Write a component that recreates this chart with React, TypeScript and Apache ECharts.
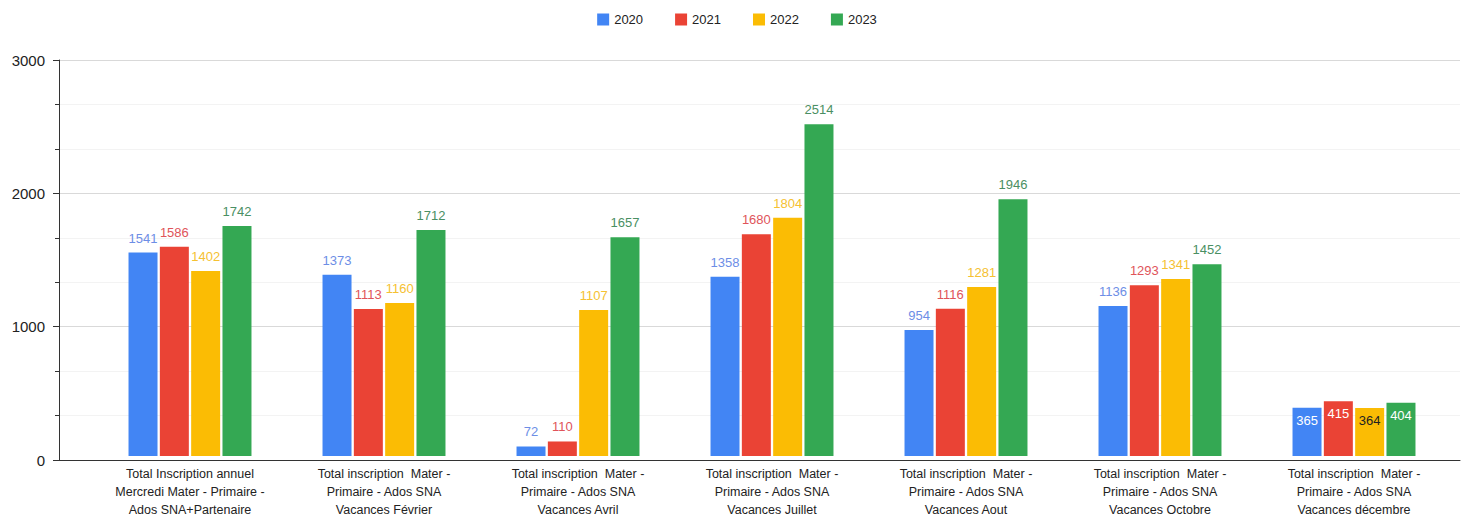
import React, { useEffect, useRef } from "react";
import * as echarts from "echarts";

const categories = [
  "Total Inscription annuel\nMercredi Mater - Primaire -\nAdos SNA+Partenaire",
  "Total inscription  Mater -\nPrimaire - Ados SNA\nVacances Février",
  "Total inscription  Mater -\nPrimaire - Ados SNA\nVacances Avril",
  "Total inscription  Mater -\nPrimaire - Ados SNA\nVacances Juillet",
  "Total inscription  Mater -\nPrimaire - Ados SNA\nVacances Aout",
  "Total inscription  Mater -\nPrimaire - Ados SNA\nVacances Octobre",
  "Total inscription  Mater -\nPrimaire - Ados SNA\nVacances décembre",
];
const seriesNames = ["2020", "2021", "2022", "2023"];
const values2020 = [1541, 1373, 72, 1358, 954, 1136, 365];
const values2021 = [1586, 1113, 110, 1680, 1116, 1293, 415];
const values2022 = [1402, 1160, 1107, 1804, 1281, 1341, 364];
const values2023 = [1742, 1712, 1657, 2514, 1946, 1452, 404];
const yTicks = [0, 1000, 2000, 3000];

const colors = ["#4285F4", "#EA4335", "#FBBC04", "#34A853"];
const labelColors = ["#6d8ee6", "#e0545a", "#f5c132", "#4a8f63"];
const insideLabelColors = ["#ffffff", "#ffffff", "#222222", "#ffffff"];
const FONT = "Liberation Sans, Arial, sans-serif";

export default function App() {
  const ref = useRef<HTMLDivElement>(null);
  useEffect(() => {
    document.body.style.margin = "0";
    const chart = echarts.init(ref.current!, null, { renderer: "svg" });
    const all = [values2020, values2021, values2022, values2023];
    const yMax = yTicks[yTicks.length - 1];
    const series = all.map((vals, i) => ({
      name: seriesNames[i],
      type: "bar",
      xAxisIndex: 1,
      yAxisIndex: 1,
      barWidth: 29,
      barGap: "8%",
      itemStyle: { color: colors[i] },
      data: vals.map((v, j) =>
        j === vals.length - 1
          ? {
              value: v,
              label: {
                position: "insideTop",
                distance: 6,
                color: insideLabelColors[i],
              },
            }
          : v
      ),
      label: {
        show: true,
        position: "top",
        distance: 8,
        color: labelColors[i],
        fontSize: 13,
        fontFamily: FONT,
      },
    }));
    chart.setOption({
      animation: false,
      textStyle: { fontFamily: FONT },
      color: colors,
      legend: {
        top: 8,
        left: "center",
        itemWidth: 12,
        itemHeight: 12,
        itemGap: 32,
        icon: "rect",
        textStyle: { fontSize: 13, color: "#222", fontFamily: FONT },
        data: seriesNames,
      },
      grid: [
        { left: 59, right: 14, top: 60, bottom: 59 },
        { left: 93, right: 23, top: 60, bottom: 59 },
      ],
      xAxis: [
        {
          gridIndex: 0,
          type: "category",
          data: [""],
          axisLine: { show: true, lineStyle: { color: "#333", width: 1 } },
          axisTick: { show: false },
          axisLabel: { show: false },
        },
        {
          gridIndex: 1,
          type: "category",
          data: categories,
          axisLine: { show: false },
          axisTick: { show: false },
          axisLabel: {
            interval: 0,
            color: "#222",
            fontSize: 12.5,
            lineHeight: 18,
            margin: 9,
            fontFamily: FONT,
          },
        },
      ],
      yAxis: [
        {
          gridIndex: 0,
          type: "value",
          min: 0,
          max: yMax,
          interval: 1000,
          axisLine: { show: true, lineStyle: { color: "#333", width: 1 } },
          axisTick: { show: true, length: 6, lineStyle: { color: "#333" } },
          minorTick: { show: true, splitNumber: 3, length: 4, lineStyle: { color: "#333" } },
          splitLine: { show: true, lineStyle: { color: "#d9d9d9" } },
          minorSplitLine: { show: true, lineStyle: { color: "#f3f3f3" } },
          axisLabel: {
            color: "#222",
            fontSize: 15,
            margin: 14,
            fontFamily: FONT,
            formatter: (v: number) => String(v),
          },
        },
        {
          gridIndex: 1,
          type: "value",
          min: 0,
          max: yMax,
          interval: 1000,
          show: false,
          splitLine: { show: false },
        },
      ],
      series,
    });
    return () => chart.dispose();
  }, []);
  return <div ref={ref} style={{ width: 1474, height: 519 }} />;
}
